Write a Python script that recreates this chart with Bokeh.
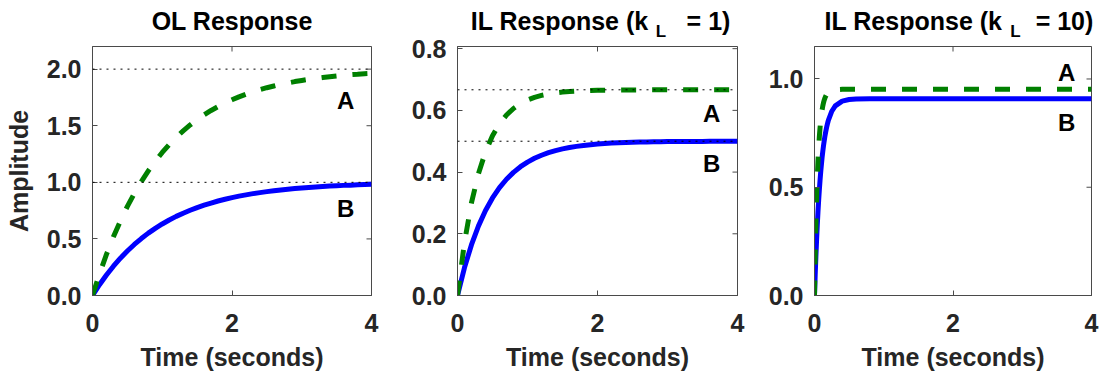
import math

from bokeh.plotting import figure
from bokeh.layouts import row, column
from bokeh.models import Range1d, FixedTicker, PrintfTickFormatter, Span
from bokeh.core.properties import value
from bokeh.embed import file_html
from bokeh.resources import INLINE

FONT = "Liberation Sans"
AXIS_COLOR = "#4a4a4a"
TEXT_COLOR = "#262626"

# ---- step responses -------------------------------------------------------
# open loop, sampled every 0.1 s
t_ol = [0.0, 0.1, 0.2, 0.3, 0.4, 0.5, 0.6, 0.7, 0.8, 0.9,
        1.0, 1.1, 1.2, 1.3, 1.4, 1.5, 1.6, 1.7, 1.8, 1.9,
        2.0, 2.1, 2.2, 2.3, 2.4, 2.5, 2.6, 2.7, 2.8, 2.9,
        3.0, 3.1, 3.2, 3.3, 3.4, 3.5, 3.6, 3.7, 3.8, 3.9, 4.0]
ol_a = [0.000, 0.190, 0.363, 0.518, 0.659, 0.787, 0.902, 1.007, 1.101, 1.187,
        1.264, 1.334, 1.398, 1.455, 1.507, 1.554, 1.596, 1.635, 1.669, 1.701,
        1.729, 1.755, 1.778, 1.799, 1.819, 1.836, 1.851, 1.866, 1.878, 1.890,
        1.900, 1.910, 1.918, 1.926, 1.933, 1.940, 1.945, 1.951, 1.955, 1.960, 1.963]
ol_b = [0.000, 0.095, 0.181, 0.259, 0.330, 0.393, 0.451, 0.503, 0.551, 0.593,
        0.632, 0.667, 0.699, 0.727, 0.753, 0.777, 0.798, 0.817, 0.835, 0.850,
        0.865, 0.878, 0.889, 0.900, 0.909, 0.918, 0.926, 0.933, 0.939, 0.945,
        0.950, 0.955, 0.959, 0.963, 0.967, 0.970, 0.973, 0.975, 0.978, 0.980, 0.982]
ol_final = [2.0, 1.0]

# inner loop, k_L = 1
t_il1 = t_ol
il1_a = [0.0000, 0.1728, 0.3008, 0.3956, 0.4659, 0.5179, 0.5565, 0.5850, 0.6062, 0.6219,
         0.6335, 0.6421, 0.6485, 0.6532, 0.6567, 0.6593, 0.6612, 0.6626, 0.6637, 0.6644,
         0.6650, 0.6655, 0.6658, 0.6660, 0.6662, 0.6663, 0.6664, 0.6665, 0.6665, 0.6666,
         0.6666, 0.6666, 0.6666, 0.6667, 0.6667, 0.6667, 0.6667, 0.6667, 0.6667, 0.6667, 0.6667]
il1_b = [0.0000, 0.0906, 0.1648, 0.2256, 0.2753, 0.3161, 0.3494, 0.3767, 0.3991, 0.4174,
         0.4323, 0.4446, 0.4546, 0.4629, 0.4696, 0.4751, 0.4796, 0.4833, 0.4863, 0.4888,
         0.4908, 0.4925, 0.4939, 0.4950, 0.4959, 0.4966, 0.4972, 0.4977, 0.4982, 0.4985,
         0.4988, 0.4990, 0.4992, 0.4993, 0.4994, 0.4995, 0.4996, 0.4997, 0.4997, 0.4998, 0.4998]
il1_final = [0.6667, 0.5]

# inner loop, k_L = 10 (fast rise, denser samples near t = 0)
t_il10 = [0.00, 0.01, 0.02, 0.03, 0.04, 0.05, 0.06, 0.07, 0.08, 0.09,
          0.10, 0.11, 0.12, 0.13, 0.14, 0.15, 0.16, 0.17, 0.18, 0.19,
          0.20, 0.25, 0.30, 0.40, 0.50, 0.60, 0.80, 1.00, 2.00, 3.00, 4.00]
il10_a = [0.0000, 0.1804, 0.3266, 0.4451, 0.5412, 0.6191, 0.6822, 0.7334, 0.7749, 0.8085,
          0.8358, 0.8578, 0.8757, 0.8903, 0.9020, 0.9116, 0.9193, 0.9256, 0.9306, 0.9348,
          0.9381, 0.9474, 0.9506, 0.9522, 0.9524, 0.9524, 0.9524, 0.9524, 0.9524, 0.9524, 0.9524]
il10_b = [0.0000, 0.0947, 0.1795, 0.2555, 0.3236, 0.3846, 0.4392, 0.4882, 0.5320, 0.5713,
          0.6065, 0.6380, 0.6662, 0.6915, 0.7142, 0.7345, 0.7527, 0.7690, 0.7836, 0.7966,
          0.8084, 0.8510, 0.8756, 0.8979, 0.9054, 0.9079, 0.9090, 0.9091, 0.9091, 0.9091, 0.9091]

x_ticks = [0, 2, 4]
y_ticks_ol = [0.0, 0.5, 1.0, 1.5, 2.0]
y_ticks_il1 = [0.0, 0.2, 0.4, 0.6, 0.8]
y_ticks_il10 = [0.0, 0.5, 1.0]

TITLE_H = 45      # height of the strip that carries each panel title
OVERLAP = 15      # plots slide up under the strip so top tick labels have room
PLOT_H = 379 - TITLE_H + OVERLAP


def style_axis(ax, ticks, fmt=None):
    ax.ticker = FixedTicker(ticks=ticks, minor_ticks=[])
    ax.major_tick_in = 5
    ax.major_tick_out = 0
    ax.minor_tick_line_color = None
    ax.major_tick_line_color = AXIS_COLOR
    ax.axis_line_color = AXIS_COLOR
    if fmt is not None:
        ax.formatter = PrintfTickFormatter(format=fmt)
    ax.major_label_text_font = FONT
    ax.major_label_text_font_style = "bold"
    ax.major_label_text_font_size = "25px"
    ax.major_label_text_color = TEXT_COLOR
    ax.axis_label_text_font = FONT
    ax.axis_label_text_font_style = "bold"
    ax.axis_label_text_font_size = "25px"
    ax.axis_label_text_color = TEXT_COLOR


def title_strip(width, parts):
    """Panel title set as text in a blank strip (x, y in strip pixels)."""
    s = figure(width=width, height=TITLE_H, output_backend="svg", toolbar_location=None,
               title=None, x_axis_location=None, y_axis_location=None,
               x_range=Range1d(0, width), y_range=Range1d(0, TITLE_H),
               min_border_left=0, min_border_right=0,
               min_border_top=0, min_border_bottom=0)
    s.grid.visible = False
    s.outline_line_color = None
    for txt, cx, base, size in parts:
        s.text(x=[cx], y=[TITLE_H - base], text=[txt],
               text_font=value(FONT), text_font_style="bold",
               text_font_size=size, text_color="black",
               text_align="center", text_baseline="alphabetic")
    return s


def panel(width, left, right, y_end, y_ticks, t, a, b, finals, label_pos, ylabel=None):
    p = figure(width=width, height=PLOT_H, output_backend="svg", toolbar_location=None,
               title=None, x_range=Range1d(0, 4), y_range=Range1d(0, y_end),
               min_border_left=left, min_border_right=right,
               min_border_top=46 - TITLE_H + OVERLAP, min_border_bottom=84,
               margin=(-OVERLAP, 0, 0, 0))
    p.grid.visible = False
    p.outline_line_color = AXIS_COLOR
    p.background_fill_color = "white"
    p.border_fill_color = None

    style_axis(p.xaxis[0], x_ticks)
    p.xaxis[0].axis_label = "Time (seconds)"
    p.xaxis[0].major_label_standoff = 18
    p.xaxis[0].axis_label_standoff = 8
    style_axis(p.yaxis[0], y_ticks, fmt="%.1f")
    p.yaxis[0].major_label_standoff = 11
    if ylabel:
        p.yaxis[0].axis_label = ylabel
        p.yaxis[0].axis_label_standoff = 11

    # inward ticks on the top and right edges of the box
    p.scatter(x=x_ticks, y=[y_end] * len(x_ticks), marker="dash", angle=math.pi / 2,
              size=10, line_color=AXIS_COLOR, line_width=1)
    p.scatter(x=[4] * len(y_ticks), y=y_ticks, marker="dash",
              size=10, line_color=AXIS_COLOR, line_width=1)

    p.line(t, b, line_color="#0000ff", line_width=5, line_join="round")
    p.line(t, a, line_color="#008000", line_width=5, line_dash="15 16",
           line_cap="butt")

    for yv in finals:
        p.add_layout(Span(location=yv, dimension="width", line_color="black",
                          line_width=1, line_dash="2 5"))

    p.text(x=[label_pos[0], label_pos[0]], y=[label_pos[1], label_pos[2]],
           text=["A", "B"], text_font=value(FONT), text_font_style="bold",
           text_font_size="24px", text_color="black",
           text_align="center", text_baseline="middle")
    return p


s1 = title_strip(400, [("OL Response", 231.7, 20, "25px")])
s2 = title_strip(365, [("IL Response (k", 159.2, 20, "25px"),
                       ("L", 260.5, 30.5, "17px"),
                       ("= 1)", 308, 20, "25px")])
s3 = title_strip(334, [("IL Response (k", 148, 20, "25px"),
                       ("L", 250, 30.5, "17px"),
                       ("= 10)", 299, 20, "25px")])

p1 = panel(400, 92, 29, 2.2, y_ticks_ol, t_ol, ol_a, ol_b, ol_final,
           (3.63, 1.72, 0.77), ylabel="Amplitude")
p2 = panel(365, 57, 28, 0.807, y_ticks_il1, t_il1, il1_a, il1_b, il1_final,
           (3.63, 0.589, 0.428))
p3 = panel(334, 48, 8, 1.15, y_ticks_il10, t_il10, il10_a, il10_b, [],
           (3.64, 1.032, 0.80))

layout = column(row(s1, s2, s3), row(p1, p2, p3))
open("out.html", "w").write(file_html(layout, INLINE))
